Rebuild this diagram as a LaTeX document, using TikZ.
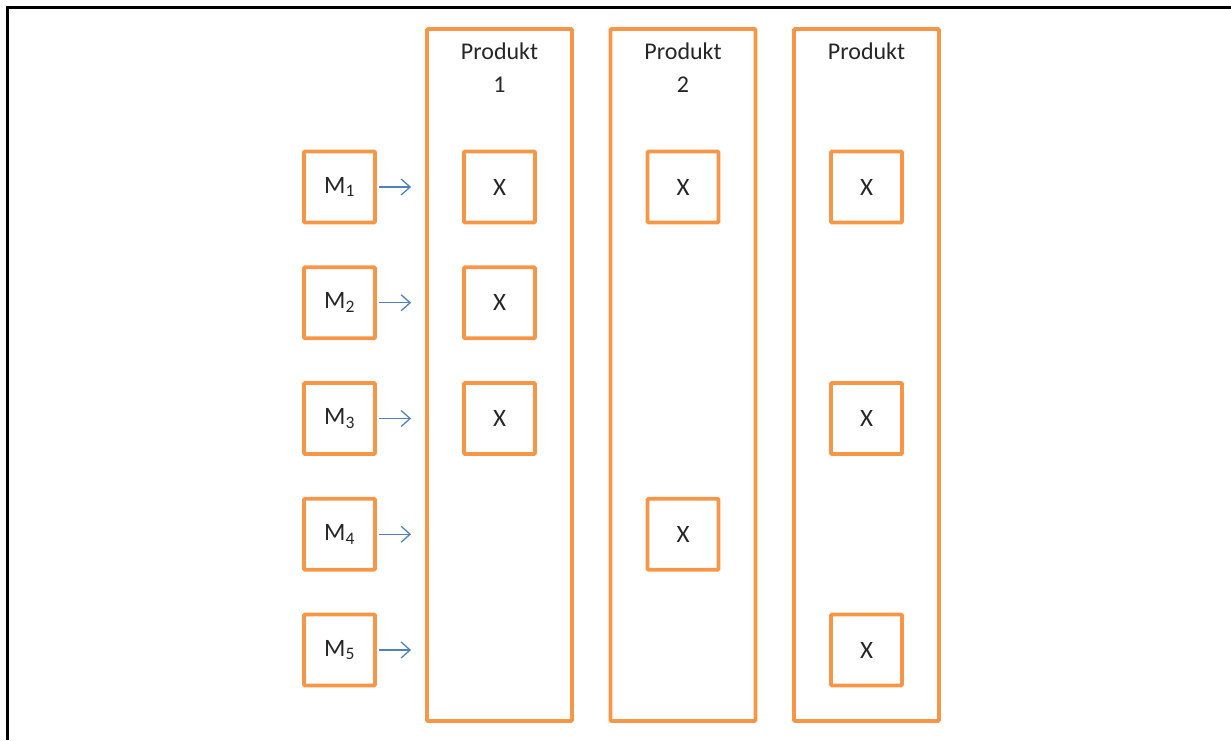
\documentclass[tikz,border=0pt]{standalone}
\usepackage{fontspec}
\setmainfont{Carlito}
\usepackage{xcolor}
\usetikzlibrary{positioning, arrows.meta}
\definecolor{boxorange}{HTML}{F79646}
\definecolor{arrowblue}{HTML}{4F81BD}

\begin{document}
\begin{tikzpicture}[x=1pt,y=-1pt,
                    main node/.style={rectangle,draw=boxorange,line width=3.8pt,rounded corners=1pt,minimum size=71pt,font=\fontsize{25}{30}\selectfont,text=black!85},
                    column node/.style={rectangle,draw=boxorange,line width=3.8pt,rounded corners=1pt,minimum width=145pt,minimum height=692pt},
                    title node/.style={font=\fontsize{24}{33}\selectfont,align=center,text=black!85},
                    link/.style={draw=arrowblue,line width=1.3pt,-{Straight Barb[length=9pt,width=16pt]}}]
 \useasboundingbox (0,0) rectangle (1231,740);
 \draw[line width=3pt] (1231,7) -- (7,7) -- (7,740);

%Product columns
 \foreach \x/\t in {1/{Produkt\\1},2/{Produkt\\2},3/{Produkt}}
   {\node[column node] (P\x) at (316+183.5*\x,375) {};
    \node[title node,below=12pt of P\x.north] (Title\x) {\t};}

%Machines with arrows
 \foreach \y in {1,...,5}
   {\node[main node] (M\y) at (339.5,71.25+115.75*\y) {M\textsubscript{\y}};
    \draw[link,shorten <=2pt,shorten >=14pt] (M\y) -- (P1.west |- M\y);}

%Marks in the columns
 \foreach \x/\y in {1/1,1/2,1/3,2/1,2/4,3/1,3/3,3/5}
   \node[main node] (X\x\y) at (P\x |- M\y) {X};

\end{tikzpicture}
\end{document}
